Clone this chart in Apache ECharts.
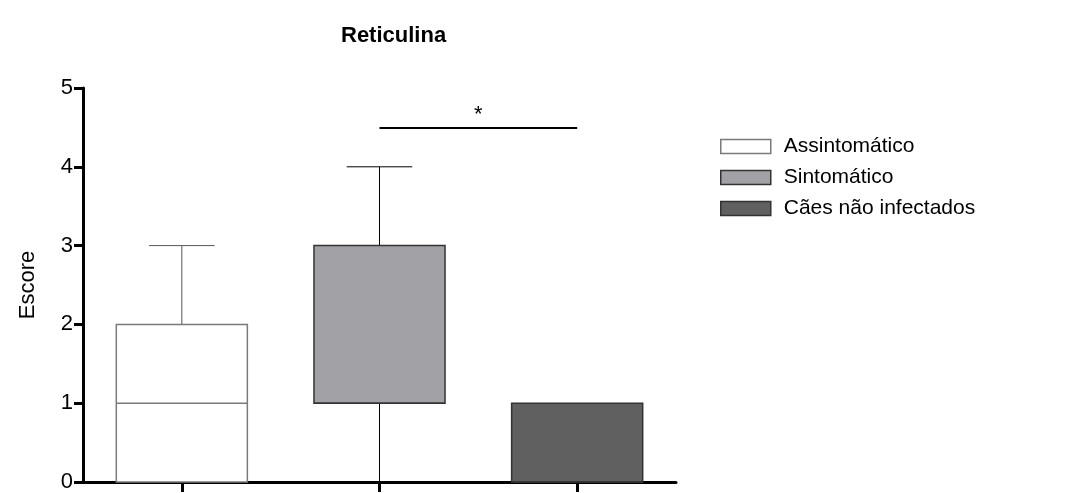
<!DOCTYPE html>
<html>
<head>
<meta charset="utf-8">
<script src="https://cdn.jsdelivr.net/npm/echarts@6/dist/echarts.min.js"></script>
<style>html,body{margin:0;padding:0;background:#fff}#c{width:1078px;height:493px}</style>
</head>
<body>
<div id="c"></div>
<script>
const categories = ['Assintomático', 'Sintomático', 'Cães não infectados'];
const minVals = [0, 0, 0];
const q1Vals = [0, 1, 0];
const medianVals = [1, 1, 0];
const q3Vals = [2, 3, 1];
const maxVals = [3, 4, 1];
const yTicks = [0, 1, 2, 3, 4, 5];
const sigLevel = 4.5;
const sigLabel = '*';

const fills = ['#ffffff', '#a2a1a6', '#606060'];
const borders = ['#7a7a7a', '#333333', '#333333'];
const whiskerColors = ['#555555', '#000000', '#000000'];
const FONT = 'Liberation Sans, Arial, sans-serif';

function renderBox(params, api) {
  const c = api.value(0);
  const vmin = api.value(1), q1 = api.value(2), med = api.value(3), q3 = api.value(4), vmax = api.value(5);
  const band = api.size([1, 0])[0];
  const w = band * 0.663;
  const idx = params.seriesIndex;
  const pTop = api.coord([c, q3]);
  const pBot = api.coord([c, q1]);
  const pMed = api.coord([c, med]);
  const pMax = api.coord([c, vmax]);
  const pMin = api.coord([c, vmin]);
  const x = pTop[0];
  const children = [];
  const wl = {stroke: whiskerColors[idx], lineWidth: 1};
  if (vmax > q3) {
    children.push({type: 'line', shape: {x1: x, y1: pTop[1], x2: x, y2: pMax[1]}, style: wl});
    children.push({type: 'line', shape: {x1: x - w / 4, y1: pMax[1], x2: x + w / 4, y2: pMax[1]}, style: wl});
  }
  if (vmin < q1) {
    children.push({type: 'line', shape: {x1: x, y1: pBot[1], x2: x, y2: pMin[1]}, style: wl});
    children.push({type: 'line', shape: {x1: x - w / 4, y1: pMin[1], x2: x + w / 4, y2: pMin[1]}, style: wl});
  }
  children.push({type: 'rect', shape: {x: x - w / 2, y: pTop[1], width: w, height: pBot[1] - pTop[1]},
    style: {fill: fills[idx], stroke: borders[idx], lineWidth: 1.5}});
  children.push({type: 'line', shape: {x1: x - w / 2, y1: pMed[1], x2: x + w / 2, y2: pMed[1]},
    style: {stroke: borders[idx], lineWidth: 1.5}});
  return {type: 'group', children: children};
}

const series = categories.map(function (name, i) {
  return {
    name: name,
    type: 'custom',
    renderItem: renderBox,
    itemStyle: {color: fills[i], borderColor: borders[i], borderWidth: 1.5},
    data: [[i, minVals[i], q1Vals[i], medianVals[i], q3Vals[i], maxVals[i]]],
    encode: {x: 0, y: [1, 2, 3, 4, 5]},
    z: 2
  };
});

series.push({
  name: 'sig',
  type: 'line',
  data: [],
  markLine: {
    silent: true,
    symbol: ['none', 'none'],
    lineStyle: {color: '#000', width: 2, type: 'solid'},
    label: {show: true, position: 'middle', formatter: sigLabel, color: '#000', fontSize: 22, fontFamily: FONT, distance: 1},
    data: [[{coord: [categories[1], sigLevel]}, {coord: [categories[2], sigLevel]}]]
  }
});

const option = {
  animation: false,
  backgroundColor: '#ffffff',
  title: {
    text: 'Reticulina',
    left: 336,
    top: 20,
    textStyle: {fontFamily: FONT, fontSize: 22, fontWeight: 'bold', color: '#000'}
  },
  legend: {
    orient: 'vertical',
    left: 715,
    top: 131,
    itemWidth: 50,
    itemHeight: 14,
    itemGap: 10,
    icon: 'rect',
    textStyle: {fontFamily: FONT, fontSize: 21, color: '#000', padding: [0, 0, 0, 8]},
    data: categories.map(function (n, i) {
      return {name: n, itemStyle: {color: fills[i], borderColor: borders[i], borderWidth: 1.5}};
    })
  },
  grid: {left: 83, right: 402, top: 88, bottom: 10, containLabel: false},
  xAxis: {
    type: 'category',
    data: categories,
    boundaryGap: true,
    axisLine: {lineStyle: {color: '#000', width: 3}},
    axisTick: {show: true, interval: 0, alignWithLabel: true, length: 10, lineStyle: {color: '#000', width: 3}},
    axisLabel: {show: false},
    splitLine: {show: false}
  },
  yAxis: {
    type: 'value',
    min: yTicks[0],
    max: yTicks[yTicks.length - 1],
    interval: 1,
    name: 'Escore',
    nameLocation: 'middle',
    nameGap: 44,
    nameRotate: 90,
    nameTextStyle: {fontFamily: FONT, fontSize: 22, color: '#000'},
    axisLine: {show: true, lineStyle: {color: '#000', width: 3}},
    axisTick: {show: true, length: 9, lineStyle: {color: '#000', width: 3}},
    axisLabel: {fontFamily: FONT, fontSize: 22, color: '#000', margin: 10},
    splitLine: {show: false}
  },
  series: series
};

const chart = echarts.init(document.getElementById('c'), null, {renderer: 'canvas'});
chart.setOption(option);
</script>
</body>
</html>
